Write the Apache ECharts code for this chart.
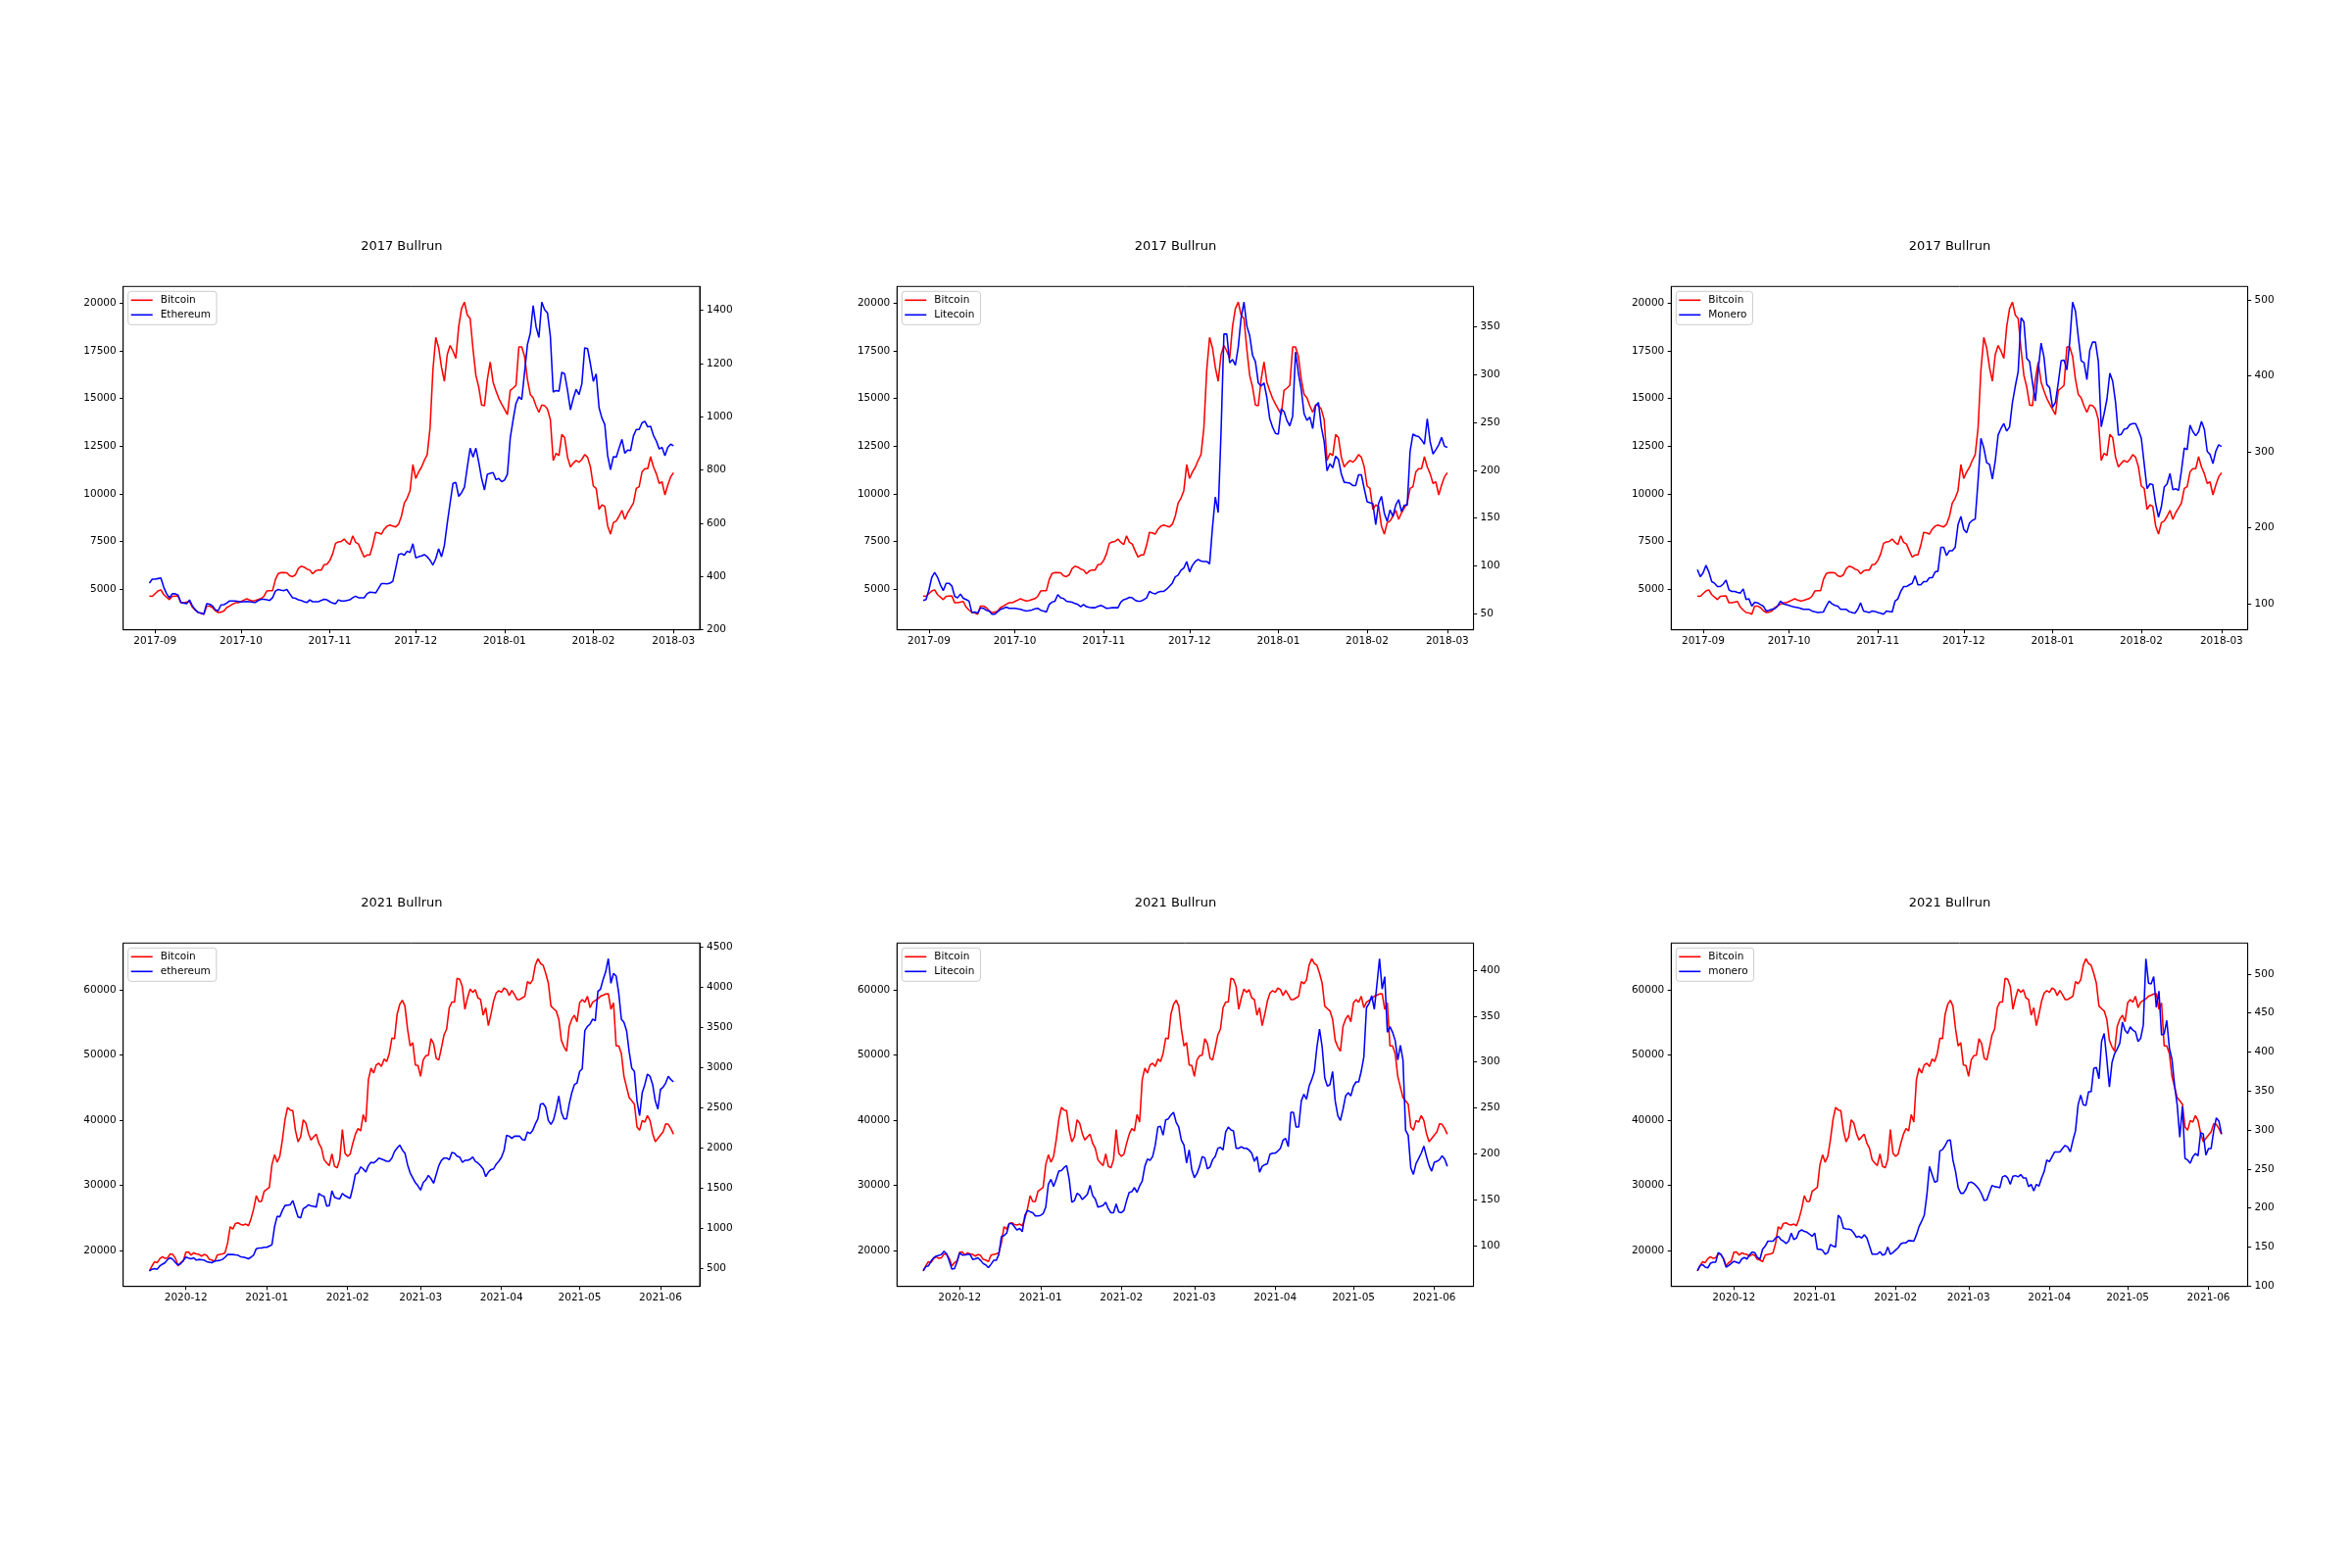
<!DOCTYPE html>
<html><head><meta charset="utf-8">
<script src="https://cdn.jsdelivr.net/npm/echarts/dist/echarts.min.js"></script>
<style>html,body{margin:0;padding:0;background:#fff}#c{width:2400px;height:1600px}</style>
</head><body><div id="c"></div>
<script>
// ---------- DATA (day offset from base date, price) ----------
const BASE_2017 = '2017-09-01';   // day 0 for 2017 series
const BASE_2021 = '2020-12-01';   // day 0 for 2021 series

const xTicks2017 = ['2017-09','2017-10','2017-11','2017-12','2018-01','2018-02','2018-03'];
const xTicks2021 = ['2020-12','2021-01','2021-02','2021-03','2021-04','2021-05','2021-06'];
const btcTicks2017 = [5000,7500,10000,12500,15000,17500,20000];
const ethTicks2017 = [200,400,600,800,1000,1200,1400];
const ltcTicks2017 = [50,100,150,200,250,300,350];
const xmrTicks2017 = [100,200,300,400,500];
const btcTicks2021 = [20000,30000,40000,50000,60000];
const ethTicks2021 = [500,1000,1500,2000,2500,3000,3500,4000,4500];
const ltcTicks2021 = [100,150,200,250,300,350,400];
const xmrTicks2021 = [100,150,200,250,300,350,400,450,500];

const btc2017 = [[-2,4630],[-1,4620],[1,4900],[2,4960],[3,4710],[5,4450],[6,4620],[8,4640],[9,4280],[10,4280],[12,4350],[13,4050],[14,3900],[15,3770],[16,3750],[17,3680],[18,4110],[19,4110],[20,4030],[21,3870],[22,3770],[23,3790],[24,3850],[25,4030],[26,4110],[27,4200],[28,4280],[29,4280],[30,4350],[31,4420],[32,4490],[33,4420],[34,4380],[35,4400],[36,4450],[37,4500],[38,4620],[39,4900],[40,4910],[41,4910],[42,5500],[43,5820],[44,5860],[45,5870],[46,5850],[47,5700],[48,5650],[49,5750],[50,6080],[51,6200],[52,6150],[53,6050],[54,6000],[55,5800],[56,5950],[57,6000],[58,5990],[59,6280],[60,6300],[61,6500],[62,6850],[63,7400],[64,7470],[65,7500],[66,7620],[67,7450],[68,7330],[69,7790],[70,7450],[71,7360],[72,7000],[73,6680],[74,6790],[75,6790],[76,7300],[77,7970],[78,7950],[79,7880],[80,8140],[81,8300],[82,8360],[83,8300],[84,8260],[85,8400],[86,8820],[87,9510],[88,9770],[89,10160],[90,11530],[91,10800],[92,11140],[93,11390],[94,11750],[95,12050],[96,13450],[97,16500],[98,18200],[99,17650],[100,16620],[101,15900],[102,17300],[103,17770],[104,17480],[105,17100],[106,18770],[107,19710],[108,20050],[109,19370],[110,19190],[111,17570],[112,16200],[113,15590],[114,14650],[115,14620],[116,16000],[117,16910],[118,15850],[119,15400],[120,15000],[121,14700],[122,14430],[123,14140],[124,15420],[125,15540],[126,15680],[127,17700],[128,17700],[129,17200],[130,16000],[131,15200],[132,15030],[133,14600],[134,14270],[135,14650],[136,14620],[137,14430],[138,13880],[139,11740],[140,12120],[141,12000],[142,13110],[143,12940],[144,11910],[145,11400],[146,11600],[147,11740],[148,11650],[149,11800],[150,12050],[151,11910],[152,11400],[153,10400],[154,10280],[155,9170],[156,9420],[157,9340],[158,8310],[159,7880],[160,8480],[161,8570],[162,8820],[163,9130],[164,8650],[165,9000],[166,9250],[167,9510],[168,10280],[169,10370],[170,11140],[171,11310],[172,11310],[173,11940],[174,11400],[175,11050],[176,10540],[177,10620],[178,9940],[179,10450],[180,10880],[181,11100]];

const eth2017 = [[-2,375],[-1,390],[0,390],[1,392],[2,394],[3,360],[4,335],[5,320],[6,335],[7,335],[8,330],[9,302],[10,300],[11,298],[12,312],[13,290],[14,275],[15,265],[16,262],[17,258],[18,298],[19,296],[20,290],[21,275],[22,271],[23,293],[24,294],[25,300],[26,308],[27,308],[28,308],[29,306],[30,304],[31,305],[32,306],[33,305],[34,303],[35,302],[36,310],[37,314],[38,314],[39,312],[40,310],[41,320],[42,345],[43,351],[44,348],[45,347],[46,351],[47,335],[48,320],[49,318],[50,312],[51,310],[52,305],[53,302],[54,312],[55,305],[56,305],[57,305],[58,310],[59,314],[60,312],[61,305],[62,300],[63,298],[64,312],[65,308],[66,308],[67,310],[68,312],[69,320],[70,326],[71,320],[72,320],[73,320],[74,335],[75,341],[76,340],[77,338],[78,355],[79,373],[80,373],[81,372],[82,375],[83,382],[84,431],[85,482],[86,486],[87,480],[88,495],[89,490],[90,523],[91,470],[92,474],[93,477],[94,482],[95,474],[96,461],[97,443],[98,467],[99,504],[100,474],[101,517],[102,600],[103,676],[104,750],[105,753],[106,701],[107,715],[108,735],[109,811],[110,882],[111,848],[112,882],[113,829],[114,768],[115,725],[116,784],[117,787],[118,790],[119,764],[120,768],[121,756],[122,762],[123,784],[124,921],[125,989],[126,1050],[127,1075],[128,1065],[129,1167],[130,1271],[131,1314],[132,1418],[133,1339],[134,1298],[135,1431],[136,1402],[137,1390],[138,1302],[139,1093],[140,1099],[141,1096],[142,1167],[143,1161],[144,1099],[145,1026],[146,1069],[147,1103],[148,1083],[149,1124],[150,1259],[151,1256],[152,1198],[153,1133],[154,1161],[155,1034],[156,995],[157,971],[158,854],[159,801],[160,850],[161,848],[162,882],[163,915],[164,863],[165,875],[166,873],[167,928],[168,952],[169,952],[170,977],[171,983],[172,962],[173,964],[174,930],[175,909],[176,879],[177,885],[178,854],[179,885],[180,897],[181,891]];

const ltc2017 = [[-2,63.6],[-1,64.7],[0,75],[1,88],[2,93],[3,88],[4,80],[5,74],[6,81.7],[7,81.7],[8,79],[9,68],[10,66.4],[11,70.5],[12,66],[13,64.7],[14,63],[15,51],[16,51.7],[17,50.3],[18,56],[19,55.5],[20,53.5],[21,52.7],[22,49.3],[23,49.3],[24,52],[25,54.4],[26,55.5],[27,56.8],[28,55.5],[29,55.5],[30,55.5],[31,55],[32,54.4],[33,53.5],[34,52.7],[35,53.2],[36,53.8],[37,55],[38,55.5],[39,53.5],[40,52.7],[41,51.7],[42,59.5],[43,62],[44,63],[45,69.8],[46,66.5],[47,65.7],[48,63],[49,62.5],[50,61.9],[51,60.5],[52,59.5],[53,57.2],[54,59.5],[55,57.2],[56,56.5],[57,56.1],[58,56.1],[59,57.5],[60,58.5],[61,57.2],[62,55.5],[63,55.8],[64,56.1],[65,56.1],[66,56.1],[67,62],[68,64.5],[69,65.5],[70,67],[71,66.4],[72,64],[73,63],[74,63],[75,64.5],[76,66.4],[77,73.2],[78,71.5],[79,70.5],[80,72.5],[81,73.2],[82,73.2],[83,75.5],[84,78.5],[85,82],[86,88.5],[87,90.2],[88,95.3],[89,97.7],[90,104.5],[91,93.6],[92,100.5],[93,104.5],[94,106.6],[95,105],[96,104.5],[97,104.5],[98,102],[99,140],[100,172],[101,155.7],[102,240],[103,342.5],[104,342.5],[105,312.5],[106,315.9],[107,310],[108,328.9],[109,359.5],[110,376],[111,351],[112,340.8],[113,320.3],[114,313.5],[115,291.4],[116,288],[117,291.4],[118,276],[119,253.9],[120,245],[121,238.5],[122,237.8],[123,264],[124,261.4],[125,252],[126,246.4],[127,256.6],[128,323.7],[129,301.6],[130,284.5],[131,259],[132,252.2],[133,255.6],[134,243.6],[135,267.5],[136,270.9],[137,245.3],[138,230],[139,199.3],[140,206.8],[141,202.7],[142,214.7],[143,211.3],[144,195.9],[145,187.4],[146,187],[147,186.4],[148,184],[149,184],[150,195.2],[151,195.2],[152,180.6],[153,167],[154,166],[155,165.2],[156,143.1],[157,165.2],[158,172.7],[159,155],[160,146.5],[161,158.4],[162,151.6],[163,163.5],[164,169.3],[165,156.7],[166,163.5],[167,163.5],[168,219.8],[169,237.8],[170,236],[171,235.1],[172,231.7],[173,227.3],[174,253.9],[175,230],[176,217],[177,221.5],[178,226.6],[179,234.4],[180,225.1],[181,223.9]];

const xmr2017 = [[-2,145],[-1,135.6],[0,140.8],[1,150.6],[2,142],[3,129.2],[4,127],[5,122.7],[6,122.7],[7,126],[8,131.3],[9,118.5],[10,116.3],[11,116.3],[12,115],[13,114.2],[14,119.7],[15,105.6],[16,106.5],[17,97],[18,102.2],[19,101.3],[20,99],[21,97],[22,90.6],[23,91.5],[24,92.7],[25,93.6],[26,97],[27,103.5],[28,100],[29,99],[30,97.9],[31,96.5],[32,95.7],[33,94.9],[34,94],[35,92.7],[36,92.7],[37,92.7],[38,90.6],[39,89.5],[40,88.5],[41,89],[42,89.3],[43,97],[44,103.5],[45,100],[46,98],[47,97],[48,92.7],[49,92.7],[50,92.7],[51,89.7],[52,88.5],[53,87.6],[54,92.7],[55,101.3],[56,90.6],[57,89.5],[58,88.5],[59,90.6],[60,90],[61,88.5],[62,87.5],[63,86.3],[64,90.6],[65,90],[66,89.3],[67,103.5],[68,106.5],[69,116.3],[70,122.7],[71,122.7],[72,125],[73,127],[74,136.9],[75,124.9],[76,124.9],[77,129.2],[78,129.2],[79,134.3],[80,134.3],[81,142],[82,142.9],[83,174.2],[84,174.2],[85,163.5],[86,169.9],[87,169.9],[88,174.2],[89,204.2],[90,214.9],[91,197.8],[92,193.5],[93,206.3],[94,209.8],[95,211.5],[96,262],[97,317.8],[98,305],[99,285.7],[100,283.5],[101,264.2],[102,287.8],[103,322.1],[104,330.7],[105,337.1],[106,327.2],[107,332.8],[108,365],[109,386.4],[110,405.7],[111,476.4],[112,470.8],[113,422.8],[114,418.5],[115,390.7],[116,367],[117,407.8],[118,443],[119,425],[120,388.5],[121,384.3],[122,358.5],[123,365],[124,390.7],[125,419.8],[126,420.7],[127,407.8],[128,444.3],[129,497],[130,485],[131,450.7],[132,419.8],[133,417.3],[134,395],[135,433.5],[136,444.3],[137,444.3],[138,418.5],[139,332.8],[140,350],[141,369.3],[142,403.5],[143,392.8],[144,365],[145,322.1],[146,323],[147,329.8],[148,330.7],[149,335.8],[150,337.1],[151,337.1],[152,328.5],[153,317.8],[154,284.4],[155,251.4],[156,257.8],[157,256.9],[158,232],[159,214],[160,227.8],[161,253.5],[162,257.8],[163,271.5],[164,250.1],[165,251.4],[166,249.2],[167,275],[168,305],[169,302.8],[170,335],[171,326.4],[172,321.2],[173,326.4],[174,340.1],[175,329.8],[176,300.7],[177,296.4],[178,284.4],[179,300.7],[180,309.2],[181,307]];

const btc2021 = [[-14,16886],[-13,17640],[-12,18292],[-11,18140],[-10,18744],[-9,19045],[-8,18794],[-7,18894],[-6,19497],[-5,19397],[-4,18794],[-3,17640],[-2,18140],[-1,18392],[0,19748],[1,19798],[2,19296],[3,19648],[4,19500],[5,19397],[6,19146],[7,19397],[8,19246],[9,18643],[10,18543],[11,18292],[12,19296],[13,19397],[14,19500],[15,19648],[16,21153],[17,23663],[18,23312],[19,24165],[20,24265],[21,24014],[22,23914],[23,24064],[24,23813],[25,24918],[26,26424],[27,28430],[28,27527],[29,27527],[30,29083],[31,29400],[32,29686],[33,33199],[34,34704],[35,33550],[36,34454],[37,36963],[38,40075],[39,41982],[40,41581],[41,41480],[42,38469],[43,36712],[44,37465],[45,40075],[46,39573],[47,37967],[48,36963],[49,37465],[50,37866],[51,36461],[52,35708],[53,33951],[54,33450],[55,33048],[56,34855],[57,32947],[58,32696],[59,33951],[60,38569],[61,34955],[62,34454],[63,34805],[64,36461],[65,37866],[66,38720],[67,38368],[68,40878],[69,39724],[70,46248],[71,48004],[72,47251],[73,48507],[74,48757],[75,48255],[76,49410],[77,49008],[78,50263],[79,52622],[80,52522],[81,56286],[82,57792],[83,58444],[84,57541],[85,54027],[86,51418],[87,51920],[88,48507],[89,48406],[90,46750],[91,49259],[92,49912],[93,50000],[94,52522],[95,51770],[96,49510],[97,49259],[98,51117],[99,53124],[100,54027],[101,57290],[102,58143],[103,58143],[104,61807],[105,61656],[106,60552],[107,57039],[108,58796],[109,60151],[110,59649],[111,60050],[112,58796],[113,58545],[114,56135],[115,57290],[116,54529],[117,56286],[118,58294],[119,59548],[120,59900],[121,59649],[122,60301],[123,60050],[124,59147],[125,59950],[126,59297],[127,58545],[128,58545],[129,58800],[130,59046],[131,61305],[132,60954],[133,61556],[134,63815],[135,64819],[136,64066],[137,63815],[138,62561],[139,61055],[140,57541],[141,57140],[142,56788],[143,55533],[144,52271],[145,51268],[146,50615],[147,54429],[148,55533],[149,56135],[150,55132],[151,58044],[152,58545],[153,58143],[154,59046],[155,57290],[156,58143],[157,58400],[158,58645],[159,59046],[160,59200],[161,59398],[162,59448],[163,57039],[164,58044],[165,51418],[166,51418],[167,50263],[168,46750],[169,45093],[170,43487],[171,43000],[172,42483],[173,38971],[174,38469],[175,39975],[176,39724],[177,40728],[178,39975],[179,37967],[180,36712],[181,37214],[182,37716],[183,38218],[184,39473],[185,39372],[186,38720],[187,37866]];

const eth2021 = [[-14,472],[-13,492],[-12,500],[-11,492],[-10,533],[-9,555],[-8,573],[-7,614],[-6,634],[-5,614],[-4,573],[-3,545],[-2,560],[-1,600],[0,643],[1,630],[2,622],[3,634],[4,606],[5,614],[6,610],[7,606],[8,586],[9,580],[10,573],[11,594],[12,598],[13,602],[14,614],[15,640],[16,675],[17,675],[18,675],[19,670],[20,667],[21,647],[22,643],[23,634],[24,622],[25,643],[26,670],[27,748],[28,755],[29,757],[30,765],[31,765],[32,780],[33,797],[34,1021],[35,1151],[36,1143],[37,1224],[38,1285],[39,1290],[40,1294],[41,1347],[42,1245],[43,1143],[44,1131],[45,1245],[46,1265],[47,1294],[48,1280],[49,1273],[50,1265],[51,1436],[52,1410],[53,1399],[54,1277],[55,1285],[56,1469],[57,1387],[58,1375],[59,1367],[60,1436],[61,1408],[62,1390],[63,1375],[64,1509],[65,1672],[66,1692],[67,1766],[68,1741],[69,1701],[70,1782],[71,1823],[72,1815],[73,1840],[74,1876],[75,1863],[76,1850],[77,1835],[78,1835],[79,1876],[80,1957],[81,2000],[82,2038],[83,1977],[84,1937],[85,1794],[86,1692],[87,1631],[88,1570],[89,1530],[90,1477],[91,1570],[92,1603],[93,1660],[94,1619],[95,1562],[96,1672],[97,1782],[98,1847],[99,1876],[100,1876],[101,1855],[102,1945],[103,1937],[104,1900],[105,1888],[106,1823],[107,1847],[108,1847],[109,1860],[110,1888],[111,1835],[112,1815],[113,1780],[114,1741],[115,1644],[116,1701],[117,1733],[118,1741],[119,1800],[120,1835],[121,1884],[122,1969],[123,2160],[124,2148],[125,2120],[126,2148],[127,2148],[128,2148],[129,2107],[130,2099],[131,2201],[132,2181],[133,2221],[134,2300],[135,2364],[136,2547],[137,2555],[138,2506],[139,2343],[140,2295],[141,2352],[142,2486],[143,2649],[144,2445],[145,2364],[146,2364],[147,2547],[148,2689],[149,2791],[150,2811],[151,2954],[152,2986],[153,3462],[154,3515],[155,3544],[156,3605],[157,3585],[158,3951],[159,3979],[160,4100],[161,4195],[162,4358],[163,4052],[164,4174],[165,4142],[166,3930],[167,3605],[168,3564],[169,3462],[170,3200],[171,2994],[172,2954],[173,2588],[174,2405],[175,2689],[176,2791],[177,2921],[178,2893],[179,2791],[180,2588],[181,2486],[182,2730],[183,2758],[184,2811],[185,2893],[186,2852],[187,2824]];

const ltc2021 = [[-14,72.6],[-13,77.2],[-12,77.9],[-11,83.2],[-10,86.8],[-9,88.6],[-8,89.3],[-7,90.4],[-6,93.9],[-5,91.1],[-4,83.2],[-3,74.4],[-2,75.1],[-1,82.5],[0,92.2],[1,89.7],[2,90],[3,90.4],[4,90.4],[5,85],[6,85.7],[7,86.8],[8,84],[9,80.5],[10,79],[11,76.1],[12,79.7],[13,84],[14,84],[15,90.4],[16,109.9],[17,111],[18,113.5],[19,124.2],[20,124.2],[21,120.6],[22,117],[23,118.8],[24,115.3],[25,133],[26,138.4],[27,137],[28,135.9],[29,132.4],[30,132.4],[31,133],[32,134.9],[33,142],[34,166.9],[35,172.2],[36,164.4],[37,172.2],[38,181.1],[39,181.8],[40,185],[41,187.2],[42,172.2],[43,147.3],[44,149.1],[45,156.9],[46,155.1],[47,150.2],[48,153],[49,156.2],[50,165.8],[51,154.4],[52,150.9],[53,142],[54,142.7],[55,143.8],[56,147.3],[57,140.2],[58,135.9],[59,135.9],[60,145.5],[61,136.6],[62,135.9],[63,138.4],[64,149.1],[65,158],[66,158.7],[67,163.3],[68,158],[69,165],[70,170.4],[71,186.4],[72,194.3],[73,192.9],[74,197.1],[75,209.6],[76,229.2],[77,229.9],[78,220.3],[79,237],[80,238.1],[81,242.3],[82,245.2],[83,234.5],[84,229.2],[85,215],[86,209.6],[87,190],[88,204.2],[89,182.9],[90,174],[91,178.6],[92,186.4],[93,197.1],[94,195.4],[95,183.6],[96,185.7],[97,193.6],[98,197.1],[99,206],[100,207.1],[101,204.2],[102,223.8],[103,229.2],[104,226],[105,224.9],[106,206],[107,206],[108,207.8],[109,206],[110,206],[111,204],[112,200.7],[113,191.8],[114,197.1],[115,180],[116,186.4],[117,188.2],[118,189.3],[119,199.6],[120,200.7],[121,200.7],[122,203],[123,206],[124,214.9],[125,216.7],[126,207.8],[127,245.2],[128,245.2],[129,229.2],[130,229.2],[131,257.6],[132,264.8],[133,259.4],[134,273.7],[135,280.8],[136,289.7],[137,316.4],[138,335.9],[139,316.4],[140,282.6],[141,273.7],[142,275.4],[143,289.7],[144,257.6],[145,241.6],[146,236.3],[147,248.7],[148,263],[149,266.5],[150,263],[151,273.7],[152,278.3],[153,278.3],[154,290],[155,305.7],[156,359.1],[157,363.7],[158,372.2],[159,357.3],[160,384],[161,412.5],[162,379.4],[163,392.9],[164,332.4],[165,338.4],[166,332.4],[167,323.5],[168,302.1],[169,318.1],[170,302.1],[171,225.6],[172,220.3],[173,184.7],[174,177.6],[175,189.3],[176,195],[177,200.7],[178,208.5],[179,197.1],[180,187.2],[181,181.1],[182,190.7],[183,191.8],[184,193.6],[185,197.8],[186,194.3],[187,186.4]];

const xmr2021 = [[-14,119.5],[-13,126.3],[-12,127.5],[-11,124.2],[-10,123.3],[-9,129.2],[-8,130.4],[-7,130.4],[-6,142.9],[-5,140.8],[-4,134.6],[-3,124.2],[-2,126.3],[-1,129.2],[0,131.7],[1,130.5],[2,129.2],[3,134.6],[4,136.7],[5,134.6],[6,140],[7,143.7],[8,142.9],[9,136.7],[10,134.6],[11,147.1],[12,151.2],[13,157.5],[14,157.5],[15,157.5],[16,161.6],[17,163.7],[18,159.6],[19,157.5],[20,154.6],[21,157.5],[22,167.9],[23,159.6],[24,161.6],[25,169.9],[26,172],[27,170],[28,169.1],[29,166.6],[30,163.7],[31,167.9],[32,147.1],[33,147.1],[34,145.8],[35,140.8],[36,142.9],[37,153.3],[38,151.2],[39,150],[40,190.8],[41,186.6],[42,174.1],[43,173.3],[44,173],[45,172],[46,167.9],[47,162.5],[48,163.7],[49,161.6],[50,165.8],[51,161.6],[52,151.2],[53,140.8],[54,140.8],[55,140.8],[56,144.1],[57,139.6],[58,140.8],[59,150],[60,140.8],[61,142.9],[62,146],[63,149.1],[64,154.1],[65,155.4],[66,155.4],[67,158.3],[68,158],[69,157.5],[70,165.8],[71,176.2],[72,183],[73,190.8],[74,216.6],[75,253.2],[76,242.8],[77,233.2],[78,234.5],[79,273.2],[80,274.8],[81,280],[82,286.5],[83,287.3],[84,261.5],[85,246.9],[86,226.1],[87,218.9],[88,218.9],[89,224.1],[90,232.4],[91,233.2],[92,231.5],[93,228.2],[94,224.1],[95,217.8],[96,209.5],[97,210.7],[98,219.9],[99,229],[100,227.4],[101,227],[102,226.1],[103,239.9],[104,241.5],[105,238.6],[106,230.3],[107,240.7],[108,241.5],[109,239.9],[110,242.8],[111,238.6],[112,238.6],[113,227.4],[114,230.3],[115,222],[116,230.3],[117,228.2],[118,238.6],[119,246.9],[120,261.5],[121,259.4],[122,265.7],[123,271.9],[124,271.9],[125,271.9],[126,276.1],[127,280.2],[128,278.2],[129,271.9],[130,286.5],[131,299],[132,332.3],[133,344.8],[134,332.3],[135,331.4],[136,349],[137,349],[138,378.9],[139,380.1],[140,365.6],[141,413.4],[142,423.8],[143,390.5],[144,355.2],[145,386.4],[146,398],[147,403.9],[148,411.4],[149,438.4],[150,428],[151,423.8],[152,432.2],[153,428],[154,425.9],[155,413.4],[156,417.6],[157,434.3],[158,519.6],[159,488.3],[160,487.1],[161,496.7],[162,457.1],[163,478],[164,421.8],[165,423],[166,440.5],[167,405.1],[168,390.5],[169,357.2],[170,332.3],[171,290.7],[172,330.3],[173,263.6],[174,261.5],[175,257.4],[176,265.7],[177,269.8],[178,267],[179,296.9],[180,294.8],[181,267.8],[182,276.1],[183,276.1],[184,299],[185,315.6],[186,311.5],[187,294.8]];

// ---------- BUILD ----------
const DAY = 86400000;
const FONT = 'DejaVu Sans';
function ts(s){const p=s.split('-').map(Number);return Date.UTC(p[0],p[1]-1,p[2]||1);}
function toTime(base, arr){const b=ts(base);return arr.map(p=>[b+p[0]*DAY,p[1]]);}
function ext(v){const mn=Math.min(...v),mx=Math.max(...v),r=mx-mn;return [mn-0.05*r,mx+0.05*r];}
function fmtMonth(v){const d=new Date(v);return d.getUTCFullYear()+'-'+String(d.getUTCMonth()+1).padStart(2,'0');}
function fmtNum(v){return String(Math.round(v));}

const panels = [
  {title:'2017 Bullrun', base:BASE_2017, btc:btc2017, alt:eth2017, altName:'Ethereum', xt:xTicks2017, lt:btcTicks2017, rt:ethTicks2017},
  {title:'2017 Bullrun', base:BASE_2017, btc:btc2017, alt:ltc2017, altName:'Litecoin', xt:xTicks2017, lt:btcTicks2017, rt:ltcTicks2017},
  {title:'2017 Bullrun', base:BASE_2017, btc:btc2017, alt:xmr2017, altName:'Monero', xt:xTicks2017, lt:btcTicks2017, rt:xmrTicks2017},
  {title:'2021 Bullrun', base:BASE_2021, btc:btc2021, alt:eth2021, altName:'ethereum', xt:xTicks2021, lt:btcTicks2021, rt:ethTicks2021},
  {title:'2021 Bullrun', base:BASE_2021, btc:btc2021, alt:ltc2021, altName:'Litecoin', xt:xTicks2021, lt:btcTicks2021, rt:ltcTicks2021},
  {title:'2021 Bullrun', base:BASE_2021, btc:btc2021, alt:xmr2021, altName:'monero', xt:xTicks2021, lt:btcTicks2021, rt:xmrTicks2021}
];
const LEFTS=[125.7,915.3,1705.3], TOPS=[292.3,962.3], W=588.3, H=350.4;

const grid=[],xAxis=[],yAxis=[],series=[],legend=[],graphic=[];
const labelStyle={color:'#000',fontFamily:FONT,fontSize:10.5};
panels.forEach((p,i)=>{
  const L=LEFTS[i%3], T=TOPS[Math.floor(i/3)];
  grid.push({left:L,top:T,width:W,height:H,show:true,borderColor:'#000',borderWidth:1,backgroundColor:'transparent'});
  const btc=toTime(p.base,p.btc), alt=toTime(p.base,p.alt);
  const xs=btc.map(d=>d[0]).concat(alt.map(d=>d[0]));
  const xe=ext(xs), yl=ext(p.btc.map(d=>d[1])), yr=ext(p.alt.map(d=>d[1]));
  const xtv=p.xt.map(ts);
  xAxis.push({type:'value',gridIndex:i,min:xe[0],max:xe[1],scale:true,
    axisLine:{show:true,onZero:false,lineStyle:{color:'#000',width:1}},
    axisTick:{show:true,length:3.6,lineStyle:{color:'#000',width:1},customValues:xtv},
    axisLabel:Object.assign({margin:6,customValues:xtv,formatter:fmtMonth,hideOverlap:false},labelStyle),
    splitLine:{show:false},minorTick:{show:false}});
  yAxis.push({type:'value',gridIndex:i,position:'left',min:yl[0],max:yl[1],
    axisLine:{show:true,onZero:false,lineStyle:{color:'#000',width:1}},
    axisTick:{show:true,length:3.6,lineStyle:{color:'#000',width:1},customValues:p.lt},
    axisLabel:Object.assign({margin:7,customValues:p.lt,formatter:fmtNum},labelStyle),splitLine:{show:false}});
  yAxis.push({type:'value',gridIndex:i,position:'right',min:yr[0],max:yr[1],
    axisLine:{show:true,onZero:false,lineStyle:{color:'#000',width:1}},
    axisTick:{show:true,length:3.6,lineStyle:{color:'#000',width:1},customValues:p.rt},
    axisLabel:Object.assign({margin:7,customValues:p.rt,formatter:fmtNum},labelStyle),splitLine:{show:false}});
  series.push({name:'Bitcoin',type:'line',xAxisIndex:i,yAxisIndex:2*i,data:btc,showSymbol:false,symbol:'none',
    lineStyle:{color:'#ff0000',width:1.55},itemStyle:{color:'#ff0000'},color:'#ff0000',z:2});
  series.push({name:p.altName,type:'line',xAxisIndex:i,yAxisIndex:2*i+1,data:alt,showSymbol:false,symbol:'none',
    lineStyle:{color:'#0000ff',width:1.55},itemStyle:{color:'#0000ff'},color:'#0000ff',z:3});
  legend.push({left:L+5,top:T+5,orient:'vertical',data:['Bitcoin',p.altName],icon:'rect',itemWidth:22,itemHeight:1.6,itemGap:3,
    selectedMode:false,backgroundColor:'rgba(255,255,255,0.8)',borderColor:'#cccccc',borderWidth:1,borderRadius:3,
    padding:[3,6,4,3],textStyle:{color:'#000',fontFamily:FONT,fontSize:10.5,lineHeight:12,padding:[0,0,0,3]}});
  graphic.push({type:'text',x:L+W/2-10,y:T-40.5,style:{text:p.title,fill:'#000',font:'13px "DejaVu Sans"',textAlign:'center',textVerticalAlign:'middle'}});
});

const chart=echarts.init(document.getElementById('c'),null,{renderer:'canvas',width:2400,height:1600});
chart.setOption({animation:false,backgroundColor:'#ffffff',grid,xAxis,yAxis,series,legend,graphic,tooltip:{show:false}});
</script></body></html>
